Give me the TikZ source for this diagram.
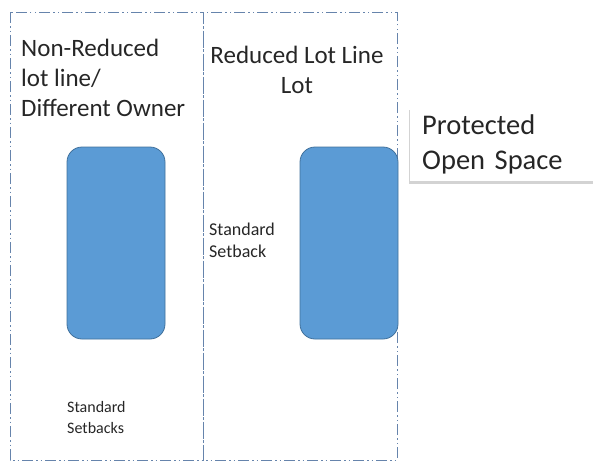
\documentclass[tikz,border=0pt]{standalone}
\usepackage{fontspec}
\setmainfont{Carlito}
\usepackage{xcolor}
\definecolor{LotLine}{HTML}{6684AC}
\definecolor{BldgBlue}{HTML}{5B9BD5}
\definecolor{BldgEdge}{HTML}{41719C}
\definecolor{TextGray}{HTML}{262626}
\usepackage{tikz}
\usetikzlibrary{positioning, shadows}
\newcommand{\labelfont}{\fontsize{28.5}{35}\selectfont\spaceskip=5.5pt\relax}
\tikzset{
  % Line styles
  lotline/.style={draw=LotLine, line width=1pt, dash pattern=on 11pt off 3pt on 1.5pt off 3pt on 1.5pt off 3pt},
  % Box styles
  bldgbox/.style={rectangle, rounded corners=15pt, draw=BldgEdge, line width=0.8pt, fill=BldgBlue, minimum width=98pt, minimum height=192pt},
  labelbox/.style={rectangle, fill=white, minimum width=190pt, minimum height=74pt, inner xsep=12pt, text width=166pt, align=left, text=TextGray, font=\labelfont, drop shadow={shadow xshift=-1.5pt, shadow yshift=-3pt, opacity=0.35}},
  % Text styles
  titletext/.style={inner sep=0pt, text=TextGray, font=\fontsize{25}{30}\selectfont},
  notetext/.style={inner sep=0pt, align=left, text=TextGray}
}
\begin{document}
\begin{tikzpicture}[x=1pt, y=-1pt]
  \useasboundingbox (0,0) rectangle (593,463);

  % Lots
  \draw[lotline] (10,12) rectangle (203,460);
  \draw[lotline] (203,12) rectangle (397,460);

  % Buildings
  \node[bldgbox] (leftbldg) at (116,243) {};
  \node[bldgbox] (rightbldg) at (349,243) {};

  % Lot titles
  \node[titletext, anchor=north west, align=left] (lefttitle) at (21,39) {Non-Reduced\\lot line/\\Different Owner};
  \node[titletext, anchor=north, align=center] (righttitle) at (297,46) {Reduced Lot Line\\Lot};

  % Setback notes
  \node[notetext, anchor=north west, font=\fontsize{18}{22}\selectfont] (sidesetback) at (209,223) {Standard\\Setback};
  \node[notetext, anchor=north west, font=\fontsize{16}{21}\selectfont] (frontsetback) at (67,401) {Standard\\Setbacks};

  % Open space label
  \node[labelbox, anchor=north west] (openspace) at (410,107) {Protected\\Open Space};
\end{tikzpicture}
\end{document}
